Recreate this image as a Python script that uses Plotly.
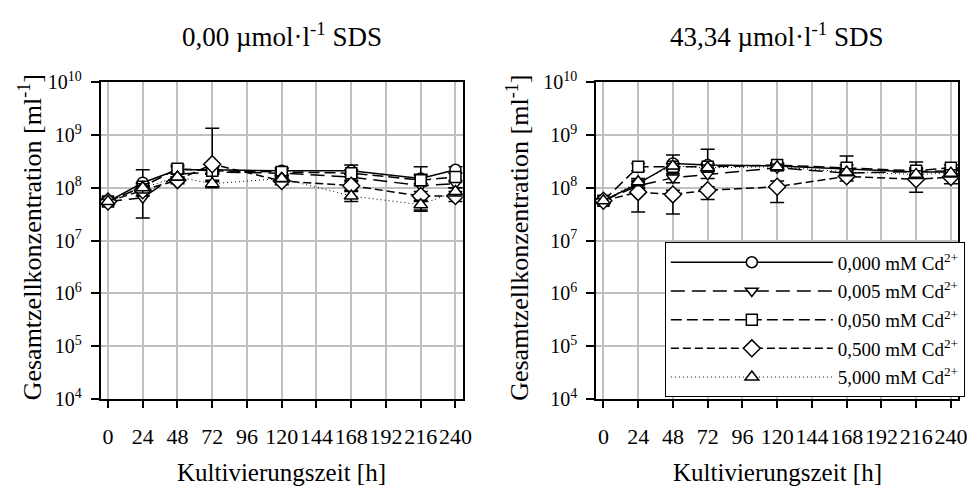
import plotly.graph_objects as go

# ---------------- data ----------------
times = [0, 24, 48, 72, 120, 168, 216, 240]
x_ticks = [0, 24, 48, 72, 96, 120, 144, 168, 192, 216, 240]
y_tickvals = [1e4, 1e5, 1e6, 1e7, 1e8, 1e9, 1e10]
y_ticktext = ["10<sup>4</sup>", "10<sup>5</sup>", "10<sup>6</sup>", "10<sup>7</sup>",
              "10<sup>8</sup>", "10<sup>9</sup>", "10<sup>10</sup>"]

series_names = ["0,000 mM Cd<sup>2+</sup>", "0,005 mM Cd<sup>2+</sup>", "0,050 mM Cd<sup>2+</sup>",
                "0,500 mM Cd<sup>2+</sup>", "5,000 mM Cd<sup>2+</sup>"]

# panel 1: 0,00 umol/l SDS
sds0_c0000 = [5.5e7, 1.25e8, 2.2e8, 2.2e8, 2.1e8, 2.1e8, 1.5e8, 2.2e8]
sds0_c0005 = [5.5e7, 6.5e7, 1.8e8, 2.0e8, 1.9e8, 1.6e8, 1.1e8, 1.2e8]
sds0_c0050 = [5.5e7, 1.05e8, 2.3e8, 2.1e8, 2.0e8, 1.9e8, 1.4e8, 1.6e8]
sds0_c0500 = [5.5e7, 9.0e7, 1.4e8, 2.8e8, 1.35e8, 1.1e8, 7.0e7, 7.0e7]
sds0_c5000 = [5.5e7, 1.0e8, 1.6e8, 1.2e8, 1.5e8, 7.0e7, 4.8e7, 8.5e7]

sds0_c0000_up = [5e6, 9.5e7, 3e7, 3e7, 3e7, 6e7, 3e7, 3e7]
sds0_c0000_dn = [5e6, 2e7, 3e7, 3e7, 3e7, 3e7, 3e7, 3e7]
sds0_c0005_up = [5e6, 3.8e7, 2e7, 2e7, 2e7, 2e7, 1.4e8, 2e7]
sds0_c0005_dn = [5e6, 3.8e7, 2e7, 2e7, 2e7, 2e7, 7.4e7, 2e7]
sds0_c0050_up = [5e6, 2e7, 4e7, 3e7, 3e7, 3e7, 3e7, 3e7]
sds0_c0050_dn = [5e6, 2e7, 4e7, 3e7, 3e7, 3e7, 3e7, 3e7]
sds0_c0500_up = [5e6, 2e7, 2e7, 1.07e9, 2e7, 2e7, 1.5e7, 1.5e7]
sds0_c0500_dn = [5e6, 2e7, 2e7, 1.5e8, 2e7, 2e7, 1.5e7, 1.5e7]
sds0_c5000_up = [5e6, 2e7, 2e7, 2e7, 2e7, 1.5e7, 1e7, 1.5e7]
sds0_c5000_dn = [5e6, 2e7, 2e7, 2e7, 2e7, 1.5e7, 1e7, 1.5e7]

# panel 2: 43,34 umol/l SDS
sds43_c0000 = [5.7e7, 1.2e8, 2.9e8, 2.7e8, 2.6e8, 2.3e8, 2.0e8, 2.0e8]
sds43_c0005 = [5.7e7, 1.1e8, 1.55e8, 1.8e8, 2.4e8, 1.9e8, 2.0e8, 2.1e8]
sds43_c0050 = [5.7e7, 2.5e8, 2.5e8, 2.5e8, 2.7e8, 2.4e8, 2.1e8, 2.4e8]
sds43_c0500 = [5.7e7, 8.3e7, 7.5e7, 9.0e7, 1.05e8, 1.65e8, 1.45e8, 1.6e8]
sds43_c5000 = [5.7e7, 1.3e8, 2.6e8, 2.4e8, 2.5e8, 2.0e8, 1.8e8, 1.9e8]

sds43_c0000_up = [5e6, 2e7, 1.3e8, 2.7e8, 3e7, 1.7e8, 1.1e8, 3e7]
sds43_c0000_dn = [5e6, 2e7, 4e7, 4e7, 3e7, 4e7, 4e7, 3e7]
sds43_c0005_up = [5e6, 2e7, 3e7, 3e7, 3e7, 3e7, 3e7, 3e7]
sds43_c0005_dn = [5e6, 2e7, 3e7, 3e7, 3e7, 3e7, 3e7, 3e7]
sds43_c0050_up = [5e6, 4e7, 4e7, 4e7, 3e7, 3e7, 3e7, 3e7]
sds43_c0050_dn = [5e6, 4e7, 4e7, 4e7, 3e7, 3e7, 3e7, 3e7]
sds43_c0500_up = [5e6, 1.5e7, 1.5e7, 1.5e7, 3e7, 3e7, 3e7, 2e7]
sds43_c0500_dn = [5e6, 4.8e7, 4.3e7, 3e7, 5.2e7, 3e7, 6.2e7, 4e7]
sds43_c5000_up = [5e6, 2e7, 3e7, 3e7, 3e7, 3e7, 3e7, 3e7]
sds43_c5000_dn = [5e6, 2e7, 3e7, 3e7, 3e7, 3e7, 3e7, 3e7]

panel_titles = ["0,00 µmol·l<sup>-1</sup> SDS", "43,34 µmol·l<sup>-1</sup> SDS"]
x_title = "Kultivierungszeit [h]"
y_title = "Gesamtzellkonzentration [ml<sup>-1</sup>]"

# ---------------- styles ----------------
symbols = ["circle", "triangle-down", "square", "diamond", "triangle-up"]
sizes = [11, 11, 11, 13, 12]
dashes = ["solid", "14px,7px", "11px,5px", "8px,4px", "1px,3px"]
widths = [1.5, 1.5, 1.5, 1.5, 1.0]
FONT = "Liberation Serif, Times New Roman, serif"

panels = [
    ([sds0_c0000, sds0_c0005, sds0_c0050, sds0_c0500, sds0_c5000],
     [sds0_c0000_up, sds0_c0005_up, sds0_c0050_up, sds0_c0500_up, sds0_c5000_up],
     [sds0_c0000_dn, sds0_c0005_dn, sds0_c0050_dn, sds0_c0500_dn, sds0_c5000_dn]),
    ([sds43_c0000, sds43_c0005, sds43_c0050, sds43_c0500, sds43_c5000],
     [sds43_c0000_up, sds43_c0005_up, sds43_c0050_up, sds43_c0500_up, sds43_c5000_up],
     [sds43_c0000_dn, sds43_c0005_dn, sds43_c0050_dn, sds43_c0500_dn, sds43_c5000_dn]),
]

fig = go.Figure()
for p, (vals, ups, dns) in enumerate(panels):
    xa = "x" if p == 0 else "x2"
    ya = "y" if p == 0 else "y2"
    for i in range(5):
        fig.add_trace(go.Scatter(
            x=times, y=vals[i], xaxis=xa, yaxis=ya,
            mode="lines+markers", name=series_names[i],
            legendgroup=f"g{i}", showlegend=(p == 1),
            line=dict(color="black", width=widths[i], dash=dashes[i]),
            marker=dict(symbol=symbols[i], size=sizes[i], color="white",
                        line=dict(color="black", width=1.5)),
            error_y=dict(type="data", symmetric=False, array=ups[i], arrayminus=dns[i],
                         color="black", thickness=1.5, width=7),
        ))

ydom = [1 - 405.7 / 498, 1 - 72.7 / 498]
xdoms = [[101.7 / 980, 467 / 980], [601.7 / 980, 967 / 980]]

axis_common = dict(showline=True, linecolor="black", linewidth=2, mirror=True,
                   showgrid=True, gridcolor="#c0c0c0", gridwidth=1.5,
                   ticks="outside", tickcolor="black", tickwidth=1.5,
                   zeroline=False)

for p in range(2):
    sx = "" if p == 0 else "2"
    fig.layout["xaxis" + sx] = dict(domain=xdoms[p], range=[-5, 245], tickvals=x_ticks,
                                    ticktext=[str(t) for t in x_ticks], tickangle=0,
                                    ticklen=7, ticklabelstandoff=9,
                                    tickfont=dict(family=FONT, size=22, color="black"),
                                    anchor="y" + sx, **axis_common)
    fig.layout["yaxis" + sx] = dict(domain=ydom, type="log", range=[4, 10],
                                    tickvals=y_tickvals, ticktext=y_ticktext,
                                    ticklen=8, ticklabelstandoff=5,
                                    tickfont=dict(family=FONT, size=20, color="black"),
                                    anchor="x" + sx, **axis_common)

ytitle_x = [31, 523]
annotations = []
for p in range(2):
    xc = (xdoms[p][0] + xdoms[p][1]) / 2
    annotations.append(dict(text=panel_titles[p], x=xc, y=1 - 23 / 498, xref="paper", yref="paper",
                            xanchor="center", yanchor="middle",
                            showarrow=False, font=dict(family=FONT, size=27, color="black")))
    annotations.append(dict(text=x_title, x=xc, y=1 - 483 / 498, xref="paper", yref="paper",
                            xanchor="center", yanchor="middle",
                            showarrow=False, font=dict(family=FONT, size=25, color="black")))
    annotations.append(dict(text=y_title, x=ytitle_x[p] / 980, y=1 - 236 / 498,
                            xref="paper", yref="paper", textangle=-90,
                            xanchor="center", yanchor="middle",
                            showarrow=False, font=dict(family=FONT, size=26, color="black")))

fig.update_layout(
    width=980, height=498, margin=dict(l=0, r=0, t=0, b=0),
    paper_bgcolor="white", plot_bgcolor="white",
    annotations=annotations,
    legend=dict(x=671 / 980, y=1 - 241 / 498, xanchor="left", yanchor="top",
                bgcolor="white", bordercolor="black", borderwidth=1,
                font=dict(family=FONT, size=19, color="black"),
                itemwidth=162, tracegroupgap=1, traceorder="grouped"),
)

fig.write_html("out.html")
